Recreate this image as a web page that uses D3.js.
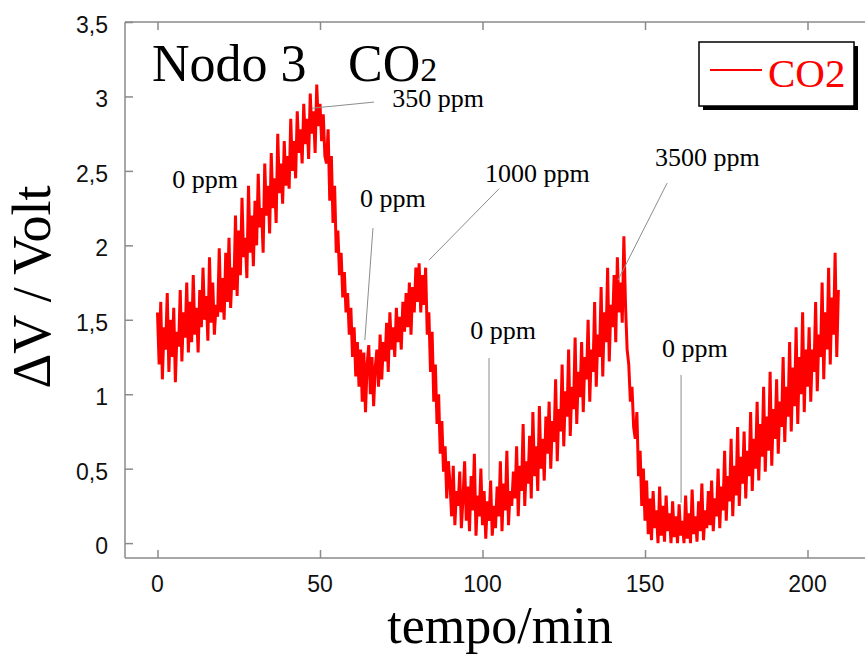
<!DOCTYPE html>
<html>
<head>
<meta charset="utf-8">
<script src="https://cdn.jsdelivr.net/npm/d3@7/dist/d3.min.js"></script>
<style>
  html, body { margin: 0; padding: 0; background: #fff; overflow: hidden; }
  svg { display: block; }
</style>
</head>
<body>
<svg id="chart" width="865" height="659"></svg>
<script>
// Sensor response of node 3 to CO2 steps, one sample every half minute.
const sampleStepMin = 0.5;
const co2Volt = [
  // 0 - 10 min
  1.55, 1.20, 1.62, 1.10, 1.45, 1.30, 1.68, 1.15, 1.50, 1.25, 1.58, 1.08, 1.42, 1.32, 1.70, 1.22, 1.55, 1.38, 1.75, 1.28,
  // 10 - 20 min
  1.62, 1.35, 1.80, 1.40, 1.58, 1.28, 1.70, 1.45, 1.85, 1.50, 1.66, 1.36, 1.92, 1.48, 1.75, 1.40, 1.60, 1.52, 1.98, 1.55,
  // 20 - 30 min
  1.78, 1.50, 1.95, 1.62, 2.05, 1.58, 1.85, 1.70, 2.20, 1.66, 2.10, 1.80, 2.32, 1.92, 2.05, 1.78, 2.40, 1.95, 2.20, 1.86,
  // 30 - 40 min
  2.30, 2.00, 2.48, 2.12, 2.25, 1.95, 2.55, 2.20, 2.40, 2.08, 2.62, 2.25, 2.45, 2.15, 2.75, 2.35, 2.55, 2.28, 2.70, 2.40,
  // 40 - 50 min
  2.60, 2.38, 2.85, 2.50, 2.70, 2.45, 2.90, 2.62, 2.78, 2.55, 2.95, 2.68, 2.85, 2.58, 3.02, 2.75, 2.90, 2.62, 3.08, 2.80,
  // 50 - 60 min
  2.95, 2.70, 2.88, 2.60, 2.55, 2.78, 2.30, 2.60, 2.15, 2.40, 1.95, 2.10, 1.80, 1.95, 1.65, 1.82, 1.55, 1.68, 1.40, 1.58,
  // 60 - 70 min
  1.25, 1.45, 1.12, 1.35, 1.05, 1.30, 0.95, 1.28, 0.88, 1.20, 1.33, 1.00, 1.25, 0.92, 1.18, 1.30, 1.05, 1.40, 1.10, 1.35,
  // 70 - 80 min
  1.22, 1.48, 1.15, 1.55, 1.30, 1.45, 1.25, 1.58, 1.35, 1.52, 1.30, 1.62, 1.42, 1.68, 1.45, 1.75, 1.40, 1.72, 1.55, 1.85,
  // 80 - 90 min
  1.62, 1.88, 1.55, 1.80, 1.60, 1.85, 1.40, 1.55, 1.15, 1.42, 0.95, 1.20, 0.80, 1.00, 0.60, 0.82, 0.48, 0.65, 0.30, 0.55,
  // 90 - 100 min
  0.40, 0.18, 0.52, 0.12, 0.35, 0.25, 0.48, 0.10, 0.30, 0.55, 0.15, 0.38, 0.08, 0.45, 0.22, 0.60, 0.05, 0.32, 0.18, 0.50,
  // 100 - 110 min
  0.12, 0.35, 0.03, 0.28, 0.15, 0.42, 0.05, 0.25, 0.10, 0.38, 0.18, 0.55, 0.08, 0.40, 0.22, 0.62, 0.12, 0.35, 0.25, 0.48,
  // 110 - 120 min
  0.30, 0.65, 0.18, 0.52, 0.35, 0.80, 0.25, 0.55, 0.40, 0.72, 0.30, 0.88, 0.45, 0.65, 0.35, 0.92, 0.50, 0.70, 0.42, 0.85,
  // 120 - 130 min
  0.60, 0.95, 0.50, 0.82, 0.68, 1.10, 0.55, 0.90, 0.75, 1.20, 0.65, 1.02, 0.85, 1.30, 0.72, 1.05, 0.90, 1.38, 0.80, 1.15,
  // 130 - 140 min
  0.98, 1.35, 0.88, 1.25, 1.10, 1.50, 0.95, 1.30, 1.15, 1.62, 1.05, 1.40, 1.25, 1.72, 1.12, 1.55, 1.35, 1.85, 1.22, 1.60,
  // 140 - 150 min
  1.45, 1.80, 1.35, 1.92, 1.55, 1.75, 1.48, 2.06, 1.60, 1.30, 1.20, 0.95, 1.05, 0.78, 0.70, 0.88, 0.45, 0.62, 0.25, 0.50,
  // 150 - 160 min
  0.15, 0.42, 0.06, 0.30, 0.02, 0.35, 0.10, 0.22, 0.00, 0.38, 0.05, 0.25, 0.01, 0.32, 0.08, 0.20, 0.00, 0.28, 0.04, 0.18,
  // 160 - 170 min
  0.00, 0.26, 0.05, 0.15, 0.00, 0.32, 0.03, 0.20, 0.00, 0.36, 0.06, 0.18, 0.01, 0.28, 0.08, 0.40, 0.02, 0.22, 0.10, 0.35,
  // 170 - 180 min
  0.12, 0.42, 0.08, 0.30, 0.18, 0.50, 0.10, 0.38, 0.22, 0.62, 0.15, 0.45, 0.28, 0.70, 0.18, 0.52, 0.32, 0.78, 0.25, 0.58,
  // 180 - 190 min
  0.40, 0.75, 0.30, 0.62, 0.45, 0.88, 0.35, 0.70, 0.50, 0.95, 0.42, 0.80, 0.58, 1.05, 0.48, 0.85, 0.62, 1.15, 0.52, 0.90,
  // 190 - 200 min
  0.70, 1.10, 0.60, 0.95, 0.78, 1.25, 0.68, 1.05, 0.85, 1.35, 0.75, 1.18, 0.92, 1.45, 0.80, 1.25, 1.00, 1.55, 0.88, 1.30,
  // 200 - 210 min
  1.05, 1.45, 0.95, 1.30, 1.15, 1.62, 1.02, 1.40, 1.25, 1.75, 1.10, 1.55, 1.30, 1.85, 1.20, 1.65, 1.40, 1.95, 1.25, 1.70
];

const xTicks = [0, 50, 100, 150, 200];
const yTicks = [0, 0.5, 1, 1.5, 2, 2.5, 3, 3.5];
const yTickLabels = ["0", "0,5", "1", "1,5", "2", "2,5", "3", "3,5"];

// Gas concentration notes: label anchor and leader line, in data units.
const noteTexts = ["0 ppm", "350 ppm", "0 ppm", "1000 ppm", "3500 ppm", "0 ppm", "0 ppm"];
const noteAnchors = [[4.5, 2.385], [72.2, 2.928], [62.3, 2.257], [100.8, 2.425], [153.1, 2.53], [96.2, 1.37], [155.2, 1.25]];
const noteLeaders = [
  null,
  [[47.5, 2.921], [66.6, 2.962]],
  [[66.3, 2.116], [63.8, 1.364]],
  [[105.1, 2.38], [83.5, 1.90]],
  [[156.8, 2.418], [141.7, 1.767]],
  [[102.0, 1.243], [102.0, 0.424]],
  [[161.1, 1.129], [161.1, 0.27]]
];

const svg = d3.select("#chart");
const serif = "'Liberation Serif', 'Times New Roman', serif";
const sans = "'Liberation Sans', Arial, sans-serif";
const axisColor = "#8a8a8a";

const plot = { left: 125, top: 22, bottom: 558 };
const x = d3.scaleLinear().domain([-10, 220]).range([plot.left, plot.left + 230 * 3.25]);
const y = d3.scaleLinear().domain([-0.1, 3.5]).range([plot.bottom, plot.top]);

// Frame: left, top and bottom edges of the plot box
const frame = svg.append("g").attr("stroke", axisColor).attr("stroke-width", 1.5).attr("fill", "none");
frame.append("line").attr("x1", plot.left).attr("x2", plot.left).attr("y1", plot.top).attr("y2", plot.bottom);
frame.append("line").attr("x1", plot.left).attr("x2", x.range()[1]).attr("y1", plot.top).attr("y2", plot.top);
frame.append("line").attr("x1", plot.left).attr("x2", x.range()[1]).attr("y1", plot.bottom).attr("y2", plot.bottom);

// Inward ticks; the numbers are drawn separately
const tickLen = 8;
const axisBottom = svg.append("g").attr("transform", `translate(0,${plot.bottom})`)
  .call(d3.axisBottom(x).tickValues(xTicks).tickSizeInner(-tickLen).tickSizeOuter(0).tickFormat(""));
const axisTop = svg.append("g").attr("transform", `translate(0,${plot.top})`)
  .call(d3.axisTop(x).tickValues(xTicks).tickSizeInner(-tickLen).tickSizeOuter(0).tickFormat(""));
const axisLeft = svg.append("g").attr("transform", `translate(${plot.left},0)`)
  .call(d3.axisLeft(y).tickValues(yTicks).tickSizeInner(-tickLen).tickSizeOuter(0).tickFormat(""));
[axisBottom, axisTop, axisLeft].forEach(g => {
  g.select(".domain").remove();
  g.selectAll(".tick line").attr("stroke", axisColor).attr("stroke-width", 1.5);
});

// Tick numbers
svg.append("g").selectAll("text").data(xTicks).join("text")
  .attr("x", d => x(d)).attr("y", 592)
  .attr("text-anchor", "middle")
  .attr("font-family", sans).attr("font-size", 23).attr("fill", "#111")
  .text(d => d);
svg.append("g").selectAll("text").data(yTicks).join("text")
  .attr("x", 108).attr("y", d => y(d) + 11)
  .attr("text-anchor", "end")
  .attr("font-family", sans).attr("font-size", 23).attr("fill", "#111")
  .text((d, i) => yTickLabels[i]);

// Axis titles
svg.append("text")
  .attr("transform", "translate(50,287) rotate(-90)")
  .attr("text-anchor", "middle")
  .attr("font-family", serif).attr("font-size", 54).attr("fill", "#000")
  .text("ΔV / Volt");
svg.append("text")
  .attr("x", 500).attr("y", 643)
  .attr("text-anchor", "middle")
  .attr("font-family", serif).attr("font-size", 52).attr("fill", "#000")
  .text("tempo/min");

// Chart title
const title = svg.append("text")
  .attr("x", 152).attr("y", 81)
  .attr("font-family", serif).attr("font-size", 52).attr("fill", "#000");
title.append("tspan").text("Nodo 3");
title.append("tspan").attr("x", 348).text("CO");
title.append("tspan").attr("font-size", 34).text("2");

// Signal trace
const line = d3.line()
  .x((d, i) => x(i * sampleStepMin))
  .y(d => y(d));
svg.append("path")
  .datum(co2Volt)
  .attr("d", line)
  .attr("fill", "none")
  .attr("stroke", "#ff0000")
  .attr("stroke-width", 3)
  .attr("stroke-linejoin", "bevel");

// Concentration notes
const notes = svg.append("g");
noteLeaders.forEach(seg => {
  if (!seg) return;
  notes.append("line")
    .attr("x1", x(seg[0][0])).attr("y1", y(seg[0][1]))
    .attr("x2", x(seg[1][0])).attr("y2", y(seg[1][1]))
    .attr("stroke", "#8c8c8c").attr("stroke-width", 1);
});
noteTexts.forEach((t, i) => {
  notes.append("text")
    .attr("x", x(noteAnchors[i][0])).attr("y", y(noteAnchors[i][1]))
    .attr("font-family", serif).attr("font-size", 26).attr("fill", "#000")
    .text(t);
});

// Legend with drop shadow
const legend = svg.append("g").attr("transform", "translate(699,42)");
legend.append("rect").attr("x", 4).attr("y", 4).attr("width", 155).attr("height", 64).attr("fill", "#000");
legend.append("rect").attr("width", 155).attr("height", 64)
  .attr("fill", "#fff").attr("stroke", "#000").attr("stroke-width", 1.5);
legend.append("line").attr("x1", 11).attr("x2", 63).attr("y1", 28).attr("y2", 28)
  .attr("stroke", "#ff0000").attr("stroke-width", 2);
legend.append("text").attr("x", 69).attr("y", 45)
  .attr("font-family", serif).attr("font-size", 41).attr("fill", "#ff0000")
  .text("CO2");
</script>
</body>
</html>
